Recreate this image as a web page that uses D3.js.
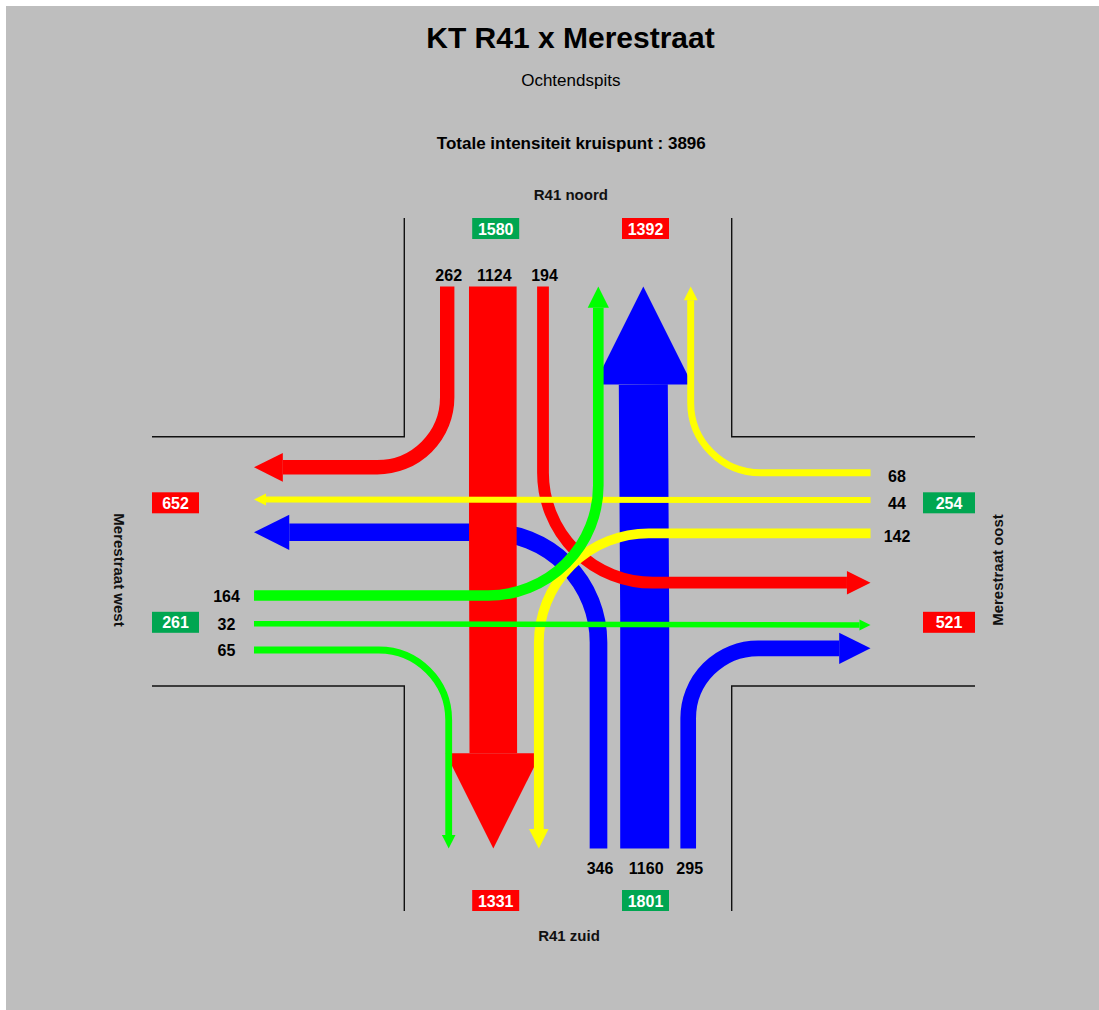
<!DOCTYPE html>
<html>
<head>
<meta charset="utf-8">
<script src="https://cdn.jsdelivr.net/npm/d3@7"></script>
<style>
  html, body { margin: 0; padding: 0; background: #fff; }
  svg { display: block; }
  text { font-family: "Liberation Sans", Arial, sans-serif; }
</style>
</head>
<body>
<svg id="chart" width="1099" height="1010"></svg>
<script>
// Chart texts
const title = 'KT R41 x Merestraat';
const subtitle = 'Ochtendspits';

// Approaches (clockwise) with their names and flow colours
const sides = ['N', 'E', 'S', 'W'];
const sideNames = ['R41 noord', 'Merestraat oost', 'R41 zuid', 'Merestraat west'];
const sideColors = ['#ff0000', '#ffff00', '#0000ff', '#00ff00'];

// Turning movements: origin, destination, intensity
const flowFrom  = ['N', 'N', 'N', 'E', 'E', 'E', 'S', 'S', 'S', 'W', 'W', 'W'];
const flowTo    = ['W', 'S', 'E', 'N', 'W', 'S', 'E', 'N', 'W', 'N', 'E', 'S'];
const flowValue = [262, 1124, 194, 68, 44, 142, 295, 1160, 346, 164, 32, 65];

// Layout of the intersection
const cx = 568, cy = 561.3;
const road = { left: 152, right: 975, top: 218, bottom: 911, west: 404.3, east: 731.7, north: 436.7, south: 686 };
const ext = { left: 254, right: 870.5, top: 286.5, bottom: 848.5 };
// lane distance from the centre line: [left turn, through, right turn]
const entryOff = { N: [25, 75.2, 120.8], S: [30.5, 76.7, 120.2], E: [28, 61.3, 88.6], W: [34.2, 62.4, 88.7] };
const exitOff  = { N: [30.3, 75.3, 122.7], S: [29.2, 74.7, 119.3], E: [21.4, 63.7, 87], W: [29, 61.8, 94] };
const turnRadius = [110, 0, 70];
const boxOffV = [-72.3, 77.5], boxOffH = [-58.5, 61];
const drawOrder = ['S', 'N', 'E', 'W'];

const svg = d3.select('#chart');

// Background
svg.append('rect')
    .attr('x', 6).attr('y', 6)
    .attr('width', 1093).attr('height', 1004)
    .attr('fill', '#bebebe');

// Titles
svg.append('text')
    .attr('x', 570.5).attr('y', 48)
    .attr('text-anchor', 'middle')
    .attr('font-size', 30).attr('font-weight', 'bold')
    .text(title);
svg.append('text')
    .attr('x', 570.8).attr('y', 86)
    .attr('text-anchor', 'middle')
    .attr('font-size', 17)
    .text(subtitle);
svg.append('text')
    .attr('x', 571.3).attr('y', 149.3)
    .attr('text-anchor', 'middle')
    .attr('font-size', 17).attr('font-weight', 'bold')
    .text('Totale intensiteit kruispunt : ' + d3.sum(flowValue));

// Road edges
const roadLines = [
    [[road.west, road.top], [road.west, road.north], [road.left, road.north]],
    [[road.east, road.top], [road.east, road.north], [road.right, road.north]],
    [[road.left, road.south], [road.west, road.south], [road.west, road.bottom]],
    [[road.right, road.south], [road.east, road.south], [road.east, road.bottom]]
];
svg.append('g').selectAll('path')
    .data(roadLines)
    .enter().append('path')
    .attr('d', d3.line())
    .attr('fill', 'none')
    .attr('stroke', '#111')
    .attr('stroke-width', 1.4);

// Width of a flow band
const widthScale = d3.scaleLinear()
    .domain([0, d3.max(flowValue)])
    .range([4.3, 49]);

// Incoming lane on an approach
function entryLane(side, idx) {
    const o = entryOff[side][idx];
    if (side === 'N') return { x: cx - o, y: ext.top, dx: 0, dy: 1 };
    if (side === 'S') return { x: cx + o, y: ext.bottom, dx: 0, dy: -1 };
    if (side === 'E') return { x: ext.right, y: cy - o, dx: -1, dy: 0 };
    return { x: ext.left, y: cy + o, dx: 1, dy: 0 };
}

// Outgoing lane on an approach
function exitLane(side, idx) {
    const o = exitOff[side][idx];
    if (side === 'N') return { x: cx + o, y: ext.top, dx: 0, dy: -1 };
    if (side === 'S') return { x: cx - o, y: ext.bottom, dx: 0, dy: 1 };
    if (side === 'E') return { x: ext.right, y: cy + o, dx: 1, dy: 0 };
    return { x: ext.left, y: cy - o, dx: -1, dy: 0 };
}

const flows = flowValue.map((v, i) => {
    const o = sides.indexOf(flowFrom[i]);
    const d = sides.indexOf(flowTo[i]);
    const idx = (d - o + 4) % 4 - 1;   // 0 left, 1 through, 2 right
    return {
        value: v, from: flowFrom[i], to: flowTo[i], idx: idx,
        a: entryLane(flowFrom[i], idx), b: exitLane(flowTo[i], idx),
        w: widthScale(v), color: sideColors[o]
    };
});

function shaftPath(f) {
    const head = 2 * f.w;
    const ex = f.b.x - f.b.dx * head, ey = f.b.y - f.b.dy * head;
    const p = d3.path();
    p.moveTo(f.a.x, f.a.y);
    if (f.idx !== 1) {
        const corner = f.a.dx === 0 ? [f.a.x, f.b.y] : [f.b.x, f.a.y];
        p.arcTo(corner[0], corner[1], ex, ey, turnRadius[f.idx]);
    } else if (f.a.dx === 0) {
        p.lineTo(f.a.x, (f.a.y + ey) / 2);   // through lanes may shift slightly
    }
    p.lineTo(ex, ey);
    return p.toString();
}

function headPoints(f) {
    const head = 2 * f.w;
    const bx = f.b.x - f.b.dx * head, by = f.b.y - f.b.dy * head;
    const px = -f.b.dy, py = f.b.dx;
    return [[f.b.x, f.b.y], [bx + px * f.w, by + py * f.w], [bx - px * f.w, by - py * f.w]];
}

// Flow bands with arrow heads
const sorted = flows.slice().sort((p, q) => drawOrder.indexOf(p.from) - drawOrder.indexOf(q.from));
const flowG = svg.append('g').selectAll('g')
    .data(sorted)
    .enter().append('g');

flowG.append('path')
    .attr('d', shaftPath)
    .attr('fill', 'none')
    .attr('stroke', d => d.color)
    .attr('stroke-width', d => d.w)
    .attr('stroke-linecap', 'butt');

flowG.append('path')
    .attr('d', d => 'M' + headPoints(d).join('L') + 'Z')
    .attr('fill', d => d.color);

// Intensity per lane at the approach
const laneLabel = svg.append('g')
    .attr('font-size', 16).attr('font-weight', 'bold')
    .attr('text-anchor', 'middle');
laneLabel.selectAll('text')
    .data(flows)
    .enter().append('text')
    .attr('x', d => d.from === 'E' ? ext.right + 26.5 : d.from === 'W' ? ext.left - 27.5 : d.a.x + 1.5)
    .attr('y', d => d.from === 'N' ? ext.top - 6 : d.from === 'S' ? ext.bottom + 25
        : d.from === 'E' ? d.a.y + 9 : d.a.y + 6)
    .text(d => d.value);

// Totals in (green) and out (red) per approach
const boxes = [];
sides.forEach(s => {
    const inTotal = d3.sum(flows.filter(f => f.from === s), f => f.value);
    const outTotal = d3.sum(flows.filter(f => f.to === s), f => f.value);
    if (s === 'N') {
        boxes.push({ v: inTotal, c: '#00a651', x: cx + boxOffV[0], y: road.top + 10.5, w: 47 });
        boxes.push({ v: outTotal, c: '#ff0000', x: cx + boxOffV[1], y: road.top + 10.5, w: 47 });
    } else if (s === 'S') {
        boxes.push({ v: outTotal, c: '#ff0000', x: cx + boxOffV[0], y: road.bottom - 10.5, w: 47 });
        boxes.push({ v: inTotal, c: '#00a651', x: cx + boxOffV[1], y: road.bottom - 10.5, w: 47 });
    } else if (s === 'E') {
        boxes.push({ v: inTotal, c: '#00a651', x: road.right - 26, y: cy + boxOffH[0], w: 52 });
        boxes.push({ v: outTotal, c: '#ff0000', x: road.right - 26, y: cy + boxOffH[1], w: 52 });
    } else {
        boxes.push({ v: outTotal, c: '#ff0000', x: road.left + 23.5, y: cy + boxOffH[0], w: 47 });
        boxes.push({ v: inTotal, c: '#00a651', x: road.left + 23.5, y: cy + boxOffH[1], w: 47 });
    }
});

const boxG = svg.append('g').selectAll('g')
    .data(boxes)
    .enter().append('g')
    .attr('transform', d => `translate(${d.x},${d.y})`);
boxG.append('rect')
    .attr('x', d => -d.w / 2).attr('y', -10.5)
    .attr('width', d => d.w).attr('height', 21)
    .attr('fill', d => d.c);
boxG.append('text')
    .attr('y', 6)
    .attr('text-anchor', 'middle')
    .attr('font-size', 16).attr('font-weight', 'bold')
    .attr('fill', '#fff')
    .text(d => d.v);

// Approach names
const nameG = svg.append('g')
    .attr('font-size', 15).attr('font-weight', 'bold')
    .attr('text-anchor', 'middle')
    .attr('fill', '#111');
nameG.append('text').attr('x', 570.8).attr('y', 200).text(sideNames[0]);
nameG.append('text').attr('x', 569).attr('y', 940.7).text(sideNames[2]);
nameG.append('text')
    .attr('transform', 'translate(1002.5,570) rotate(-90)')
    .text(sideNames[1]);
nameG.append('text')
    .attr('transform', 'translate(113.5,570) rotate(90)')
    .text(sideNames[3]);
</script>
</body>
</html>
